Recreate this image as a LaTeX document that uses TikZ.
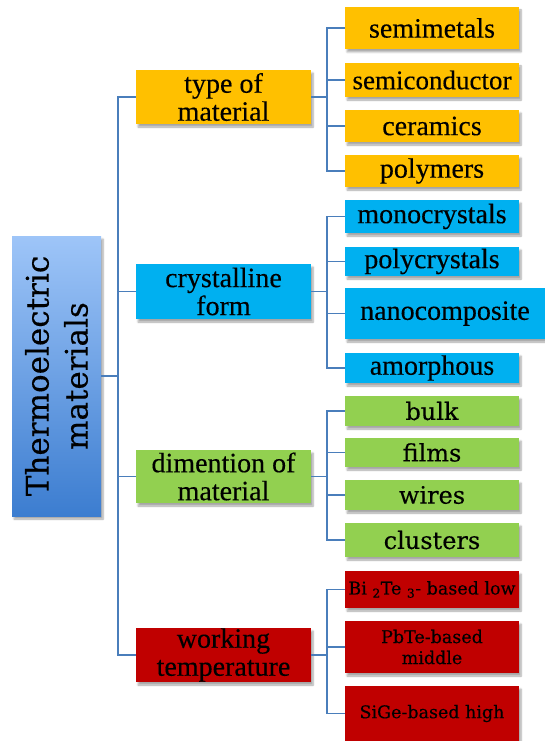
\documentclass[tikz,border=0pt]{standalone}
\usepackage{fontspec}
\setmainfont[FakeBold=0.3]{Liberation Serif}
\newfontfamily\cam[FakeBold=0.3]{DejaVu Serif}
\usetikzlibrary{shadows.blur}
\definecolor{yel}{HTML}{FFC000}
\definecolor{blu}{HTML}{00B0F0}
\definecolor{grn}{HTML}{92D050}
\definecolor{rd}{HTML}{C00000}
\definecolor{linec}{HTML}{4A7EBB}
\definecolor{rootlight}{HTML}{9EC5F8}
\definecolor{rootdark}{HTML}{3C7DD0}
\begin{document}
\begin{tikzpicture}[x=1pt,y=-1pt,
  box/.style={rectangle, inner sep=0pt, align=center, text=black,
    blur shadow={shadow xshift=2pt, shadow yshift=-3pt, shadow blur steps=6, shadow opacity=35}},
  lone/.style={box, minimum width=175pt, font=\fontsize{28}{28}\selectfont},
  leaf/.style={box, minimum width=174pt, font=\fontsize{28}{30}\selectfont},
  gleaf/.style={box, fill=grn, minimum width=174pt, font=\cam\fontsize{24}{26}\selectfont},
  rleaf/.style={box, fill=rd, minimum width=174pt, font=\cam\fontsize{17.5}{21}\selectfont},
  conn/.style={draw=linec, line width=1.8pt}]
\useasboundingbox (0,0) rectangle (545,741);

% root
\node[box, rotate=90, minimum width=280pt, minimum height=89pt,
  top color=rootlight, bottom color=rootdark,
  font=\cam\fontsize{31}{39}\selectfont] (root) at (56.5,376) {Thermoelectric\\materials};

% level 1
\node[lone, fill=yel, minimum height=54pt] (type) at (223.5,97) {type of\\material};
\node[lone, fill=blu, minimum height=55pt] (cryst) at (223.5,291.5) {crystalline\\form};
\node[lone, fill=grn, minimum height=53pt] (dim) at (223.5,476.5) {dimention of\\material};
\node[lone, fill=rd, minimum height=54pt] (work) at (223.5,655) {working\\temperature};

% yellow leaves
\node[leaf, fill=yel, minimum height=42pt] (semimetals) at (432,28) {semimetals};
\node[leaf, fill=yel, minimum height=34pt, font=\fontsize{27}{29}\selectfont] (semicond) at (432,80) {semiconductor};
\node[leaf, fill=yel, minimum height=32pt] (ceramics) at (432,126) {ceramics};
\node[leaf, fill=yel, minimum height=32pt] (polymers) at (432,171) {polymers};

% blue leaves
\node[leaf, fill=blu, minimum height=33pt] (mono) at (432,216.5) {monocrystals};
\node[leaf, fill=blu, minimum height=29pt] (poly) at (432,261.5) {polycrystals};
\node[leaf, fill=blu, minimum height=51pt, minimum width=200pt] (nano) at (445,313.5) {nanocomposite};
\node[leaf, fill=blu, minimum height=30pt] (amor) at (432,368) {amorphous};

% green leaves
\node[gleaf, minimum height=30pt] (bulk) at (432,411) {bulk};
\node[gleaf, minimum height=29pt] (films) at (432,452.5) {films};
\node[gleaf, minimum height=30pt] (wires) at (432,495) {wires};
\node[gleaf, minimum height=34pt] (clusters) at (432,540) {clusters};

% red leaves
\node[rleaf, minimum height=37pt] (bite) at (432,589.5) {Bi \textsubscript{2}Te \textsubscript{3}- based low};
\node[rleaf, minimum height=52pt] (pbte) at (432,647) {PbTe-based\\middle};
\node[rleaf, minimum height=55pt] (sige) at (432,713.5) {SiGe-based high};

% trunk
\coordinate (T) at (118,376);
\draw[conn] (root.south) -- (T);
\foreach \n in {type,cryst,dim,work} \draw[conn] (T) |- (\n.west);

% sub branches
\path (type.east) ++(16,0) coordinate (Sa);
\path (cryst.east) ++(16,0) coordinate (Sb);
\path (dim.east) ++(16,0) coordinate (Sc);
\path (work.east) ++(16,0) coordinate (Sd);
\draw[conn] (type.east) -- (Sa);
\draw[conn] (cryst.east) -- (Sb);
\draw[conn] (dim.east) -- (Sc);
\draw[conn] (work.east) -- (Sd);
\foreach \n in {semimetals,semicond,ceramics,polymers} \draw[conn] (Sa) |- (\n.west);
\foreach \n in {mono,poly,nano,amor} \draw[conn] (Sb) |- (\n.west);
\foreach \n in {bulk,films,wires,clusters} \draw[conn] (Sc) |- (\n.west);
\foreach \n in {bite,pbte,sige} \draw[conn] (Sd) |- (\n.west);
\end{tikzpicture}
\end{document}
